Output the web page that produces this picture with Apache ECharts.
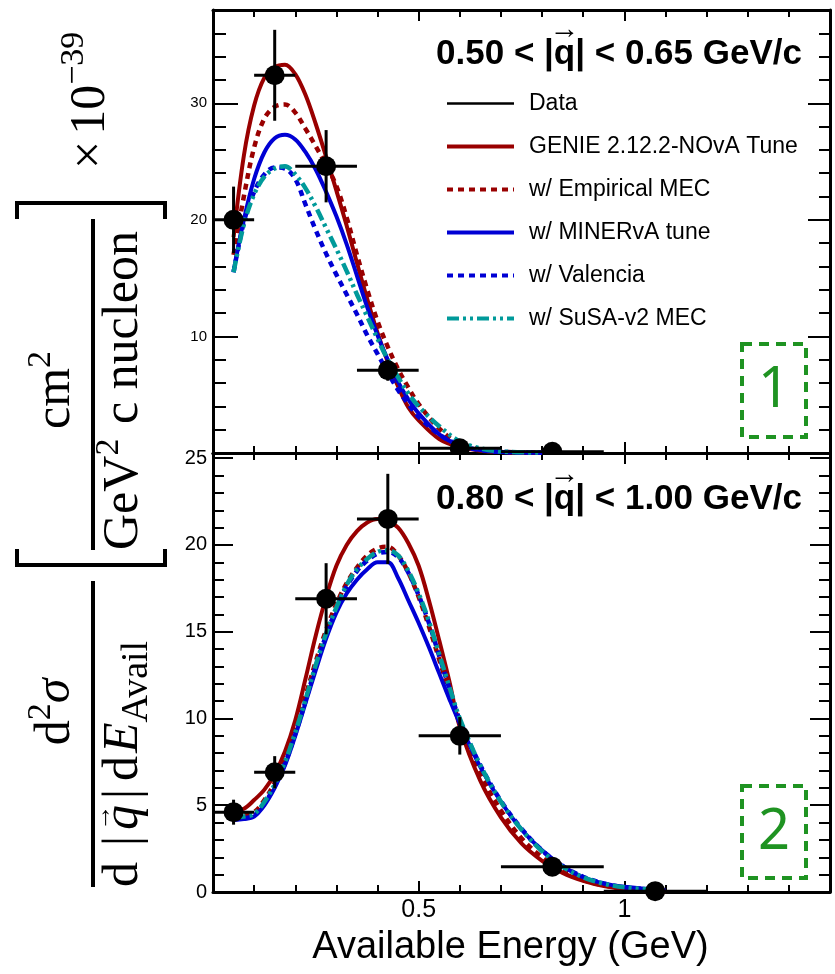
<!DOCTYPE html>
<html>
<head>
<meta charset="utf-8">
<script src="https://cdn.jsdelivr.net/npm/echarts@6/dist/echarts.min.js"></script>
<style>
  html, body { margin: 0; padding: 0; background: #ffffff; }
  #chart { width: 835px; height: 974px; }
</style>
</head>
<body>
<div id="chart"></div>
<script>
// ---- Measured cross-section, binned in available energy (GeV) ----
const binLow    = [0.00, 0.10, 0.20, 0.35, 0.50, 0.70, 0.95];
const binHigh   = [0.10, 0.20, 0.35, 0.50, 0.70, 0.95, 1.20];
const binCenter = [0.05, 0.15, 0.275, 0.425, 0.60, 0.825, 1.075];

// 0.50 < |q| < 0.65 GeV/c
const dataTop = [20.0, 32.4, 24.6, 7.1, 0.4, 0.1];
const errTop  = [2.85, 3.9, 3.1, 0.9, 0.2, 0.05];
// 0.80 < |q| < 1.00 GeV/c
const dataBottom = [4.6, 6.9, 16.9, 21.5, 9.0, 1.46, 0.05];
const errBottom  = [0.72, 0.93, 2.05, 2.6, 1.08, 0.3, 0.05];

// ---- Model predictions ----
const xTop = [0.05, 0.075, 0.1, 0.125, 0.15, 0.175, 0.2, 0.225, 0.25, 0.275,
              0.3, 0.325, 0.35, 0.375, 0.4, 0.425, 0.45, 0.475, 0.5, 0.55,
              0.6, 0.65, 0.7, 0.8];
const genieTop    = [18.5, 25.5, 29.8, 32.2, 33.1, 33.3, 32.5, 30.7, 28.2, 25.4,
                     22.5, 19.5, 16.3, 13.2, 10.3, 7.8, 5.7, 3.9, 2.8, 1.2,
                     0.5, 0.2, 0.08, 0.02];
const empMecTop   = [17.0, 22.0, 26.2, 28.7, 29.7, 29.9, 29.2, 27.8, 26.3, 24.7,
                     22.9, 20.2, 17.0, 14.0, 11.3, 9.1, 7.2, 5.6, 4.2, 2.1,
                     0.75, 0.3, 0.1, 0.03];
const minervaTop  = [15.6, 20.0, 23.5, 25.8, 27.0, 27.3, 26.9, 25.8, 24.3, 22.4,
                     20.3, 17.9, 15.2, 12.5, 10.1, 8.0, 6.1, 4.6, 3.4, 1.6,
                     0.65, 0.25, 0.09, 0.03];
const valenciaTop = [15.5, 19.8, 22.4, 23.9, 24.5, 24.4, 23.5, 21.3, 19.1, 17.1,
                     15.3, 13.6, 11.9, 10.1, 8.5, 6.9, 5.4, 4.2, 3.1, 1.6,
                     0.65, 0.25, 0.09, 0.03];
const susaTop     = [15.5, 19.6, 22.2, 23.7, 24.4, 24.6, 23.9, 22.7, 21.1, 19.3,
                     17.5, 15.6, 13.6, 11.7, 9.8, 8.0, 6.5, 5.1, 4.0, 2.3,
                     1.0, 0.4, 0.13, 0.04];

const xBottom = [0.05, 0.075, 0.1, 0.125, 0.15, 0.175, 0.2, 0.225, 0.25, 0.275,
                 0.3, 0.325, 0.35, 0.375, 0.4, 0.425, 0.45, 0.475, 0.5, 0.525,
                 0.55, 0.575, 0.6, 0.65, 0.7, 0.75, 0.8, 0.85, 0.9, 0.95,
                 1.0, 1.1];
const genieBottom    = [4.7, 4.8, 5.3, 5.9, 6.8, 8.1, 9.9, 12.3, 14.8, 17.0,
                        18.8, 20.0, 20.8, 21.3, 21.5, 21.4, 21.0, 20.1, 18.8, 16.8,
                        14.5, 12.1, 9.5, 6.4, 4.3, 2.8, 1.8, 1.1, 0.65, 0.35,
                        0.18, 0.05];
const empMecBottom   = [4.4, 4.45, 4.6, 5.3, 6.3, 7.6, 9.3, 11.3, 13.3, 15.1,
                        16.6, 17.8, 18.7, 19.4, 19.8, 19.9, 19.4, 18.4, 17.0, 15.3,
                        13.4, 11.5, 9.7, 6.8, 4.7, 3.1, 2.0, 1.25, 0.7, 0.38,
                        0.2, 0.06];
const minervaBottom  = [4.15, 4.2, 4.35, 5.0, 6.0, 7.3, 9.0, 10.9, 12.8, 14.6,
                        16.1, 17.2, 18.0, 18.6, 19.0, 19.0, 18.1, 16.8, 15.5, 14.1,
                        12.6, 11.1, 9.7, 7.2, 5.2, 3.6, 2.4, 1.5, 0.85, 0.5,
                        0.3, 0.1];
const valenciaBottom = [4.2, 4.25, 4.4, 5.1, 6.1, 7.4, 9.1, 11.0, 13.0, 14.8,
                        16.3, 17.6, 18.5, 19.1, 19.5, 19.6, 19.3, 18.4, 17.1, 15.5,
                        13.6, 11.7, 9.9, 7.3, 5.25, 3.65, 2.4, 1.5, 0.88, 0.5,
                        0.28, 0.08];
const susaBottom     = [4.3, 4.35, 4.5, 5.2, 6.2, 7.5, 9.2, 11.1, 13.1, 14.9,
                        16.4, 17.7, 18.6, 19.2, 19.6, 19.7, 19.4, 18.5, 17.2, 15.6,
                        13.7, 11.8, 10.0, 7.3, 5.2, 3.6, 2.35, 1.45, 0.85, 0.48,
                        0.27, 0.08];

// ---- Text ----
const seriesNames = ['Data', 'GENIE 2.12.2-NOvA Tune', 'w/ Empirical MEC',
                     'w/ MINERvA tune', 'w/ Valencia', 'w/ SuSA-v2 MEC'];
const panelLabelTop    = ['0.50 < |', 'q', '| < 0.65 GeV/c'];
const panelLabelBottom = ['0.80 < |', 'q', '| < 1.00 GeV/c'];
const xTitle = 'Available Energy (GeV)';

// ---- Styling ----
const RED = '#990000', BLUE = '#0000d4', TEAL = '#009a9a', GREEN = '#1f9322';
const SANS = '"Liberation Sans", Arial, Helvetica, sans-serif';
const SERIF = '"Liberation Serif", "Times New Roman", serif';

const measureCtx = document.createElement('canvas').getContext('2d');
function textWidth(str, font) { measureCtx.font = font; return measureCtx.measureText(str).width; }

function xAxisCfg(grid, position, withLabels) {
  return {
    type: 'value', gridIndex: grid, position: position,
    min: 0, max: 1.5, interval: 0.5,
    axisLine: { show: true, onZero: false, lineStyle: { color: '#000', width: 3 } },
    axisTick: { show: true, inside: true, length: 11, lineStyle: { color: '#000', width: 2 } },
    minorTick: { show: true, splitNumber: 5, length: 7, lineStyle: { color: '#000', width: 2 } },
    splitLine: { show: false }, minorSplitLine: { show: false },
    axisLabel: withLabels ? {
      show: true, margin: 6, color: '#000', fontFamily: SANS, fontSize: 25,
      formatter: v => (Math.abs(v - 0.5) < 1e-9 ? '0.5' : Math.abs(v - 1) < 1e-9 ? '1' : '')
    } : { show: false },
    name: withLabels ? xTitle : '',
    nameLocation: 'middle', nameGap: 37,
    nameTextStyle: { color: '#000', fontFamily: SANS, fontSize: 38, padding: [0, 22, 0, 0] }
  };
}

function yAxisCfg(grid, position, max, interval, majorLen, minorLen, labelSize, withLabels, labelTest) {
  return {
    type: 'value', gridIndex: grid, position: position,
    min: 0, max: max, interval: interval,
    axisLine: { show: true, onZero: false, lineStyle: { color: '#000', width: 3 } },
    axisTick: { show: true, inside: true, length: majorLen, lineStyle: { color: '#000', width: 2 } },
    minorTick: { show: true, splitNumber: 5, length: minorLen, lineStyle: { color: '#000', width: 2 } },
    splitLine: { show: false }, minorSplitLine: { show: false },
    axisLabel: withLabels ? {
      show: true, margin: 6, color: '#000', fontFamily: SANS, fontSize: labelSize,
      formatter: v => (labelTest(v) ? String(v) : '')
    } : { show: false }
  };
}

function curve(name, xs, ys, axisIdx, color, dash, width, z) {
  return {
    type: 'line', name: name, xAxisIndex: axisIdx, yAxisIndex: axisIdx,
    data: xs.map((x, i) => [x, ys[i]]),
    symbol: 'none', smooth: 0.35, clip: true, silent: true, z: z,
    lineStyle: { color: color, width: width, type: dash, cap: 'butt' },
    itemStyle: { color: color }
  };
}

function pointRows(values, errors) {
  return values.map((v, i) => [binCenter[i], v, binLow[i], binHigh[i], v - errors[i], v + errors[i]]);
}

function renderPoint(params, api) {
  const x = api.value(0), y = api.value(1);
  const c = api.coord([x, y]);
  const l = api.coord([api.value(2), y]), r = api.coord([api.value(3), y]);
  const lo = api.coord([x, api.value(4)]), hi = api.coord([x, api.value(5)]);
  const bar = { stroke: '#000', lineWidth: 3 };
  return {
    type: 'group',
    children: [
      { type: 'line', shape: { x1: l[0], y1: c[1], x2: r[0], y2: c[1] }, style: bar },
      { type: 'line', shape: { x1: c[0], y1: hi[1], x2: c[0], y2: lo[1] }, style: bar },
      { type: 'circle', shape: { cx: c[0], cy: c[1], r: 10 }, style: { fill: '#000' } }
    ]
  };
}

function pointSeries(rows, axisIdx, clip) {
  return {
    type: 'custom', name: 'Data', xAxisIndex: axisIdx, yAxisIndex: axisIdx,
    data: rows, renderItem: renderPoint, clip: clip, silent: true, z: 10,
    encode: { x: 0, y: 1 },
    itemStyle: { color: '#000' }
  };
}

// ---- Rotated y-axis title, typeset piece by piece (reads bottom to top) ----
function verticalRun(startY, baseX, tokens, out) {
  let y = startY;
  tokens.forEach(tk => {
    const font = (tk.italic ? 'italic ' : '') + tk.size + 'px ' + SERIF;
    y -= (tk.pad || 0);
    const w = textWidth(tk.t, font);
    const cx = baseX + (tk.dy || 0) - 0.33 * tk.size;
    out.push({
      type: 'text', rotation: Math.PI / 2, x: cx, y: y, silent: true,
      style: { text: tk.t, font: font, fill: '#000', textAlign: 'left', textVerticalAlign: 'middle' }
    });
    if (tk.vec) {
      out.push({
        type: 'text', rotation: Math.PI / 2, x: baseX - 0.74 * tk.size, y: y - w / 2, silent: true,
        style: { text: '\u2192', font: '26px ' + SERIF, fill: '#000', textAlign: 'center', textVerticalAlign: 'middle' }
      });
    }
    y -= w;
  });
  return y;
}
function runWidth(tokens) {
  return tokens.reduce((s, tk) => s + (tk.pad || 0) +
    textWidth(tk.t, (tk.italic ? 'italic ' : '') + tk.size + 'px ' + SERIF), 0);
}

const titleParts = [];
// d²σ / d|q|dE_Avail
const numA = [{ t: 'd', size: 50 }, { t: '2', size: 34, dy: -20 }, { t: '\u03c3', size: 50, italic: true }];
verticalRun(712 + runWidth(numA) / 2, 72, numA, titleParts);
const denA = [
  { t: 'd', size: 50 }, { t: '|', size: 50, pad: 16 }, { t: 'q', size: 50, italic: true, pad: 6, vec: true },
  { t: '|', size: 50, pad: 6 }, { t: 'd', size: 50, pad: 8 }, { t: 'E', size: 50, italic: true, pad: 3 },
  { t: 'Avail', size: 38, dy: 10 }
];
verticalRun(887, 140, denA, titleParts);
// cm² / GeV² c nucleon
const numB = [{ t: 'cm', size: 50 }, { t: '2', size: 34, dy: -20 }];
verticalRun(390 + runWidth(numB) / 2, 72, numB, titleParts);
const denB = [{ t: 'GeV', size: 50 }, { t: '2', size: 34, dy: -20 }, { t: ' c nucleon', size: 50, pad: 2 }];
verticalRun(550, 140, denB, titleParts);
// × 10⁻³⁹
const scaleRun = [{ t: '\u00d7', size: 50 }, { t: '10', size: 50, pad: 6 }, { t: '\u221239', size: 34, dy: -22 }];
verticalRun(169, 107, scaleRun, titleParts);

const rule = { stroke: '#000', lineWidth: 4 };
const titleLines = [
  { type: 'line', shape: { x1: 93, y1: 581, x2: 93, y2: 887 }, style: rule },
  { type: 'line', shape: { x1: 93, y1: 219, x2: 93, y2: 550 }, style: rule },
  // opening bracket
  { type: 'polyline', shape: { points: [[17, 549], [17, 565], [165, 565], [165, 549]] }, style: Object.assign({ fill: 'none' }, rule) },
  // closing bracket
  { type: 'polyline', shape: { points: [[17, 219], [17, 203], [165, 203], [165, 219]] }, style: Object.assign({ fill: 'none' }, rule) }
];

// ---- Panel labels with a vector arrow over q ----
function panelLabel(parts, rightX, midY) {
  const font = 'bold 35px ' + SANS;
  const full = parts.join('');
  const W = textWidth(full, font);
  const qMid = rightX - W + textWidth(parts[0], font) + textWidth(parts[1], font) / 2;
  return [
    { type: 'text', x: rightX, y: midY, silent: true,
      style: { text: full, font: font, fill: '#000', textAlign: 'right', textVerticalAlign: 'middle' } },
    { type: 'text', x: qMid, y: midY - 24, silent: true,
      style: { text: '\u2192', font: 'bold 30px ' + SANS, fill: '#000', textAlign: 'center', textVerticalAlign: 'middle' } }
  ];
}

function tagBox(label, x, y, w, h) {
  return [
    { type: 'rect', shape: { x: x, y: y, width: w, height: h }, silent: true,
      style: { fill: 'none', stroke: GREEN, lineWidth: 4, lineDash: [10, 7] } },
    { type: 'text', x: x + w / 2, y: y + h / 2 + 1, silent: true,
      style: { text: label, font: '56px "Noto Sans", "Open Sans", sans-serif', fill: GREEN,
               textAlign: 'center', textVerticalAlign: 'middle' } }
  ];
}

const chart = echarts.init(document.getElementById('chart'), null, { renderer: 'canvas', width: 835, height: 974 });

const option = {
  animation: false,
  backgroundColor: '#ffffff',
  grid: [
    { left: 213, top: 10, width: 617, height: 443, containLabel: false, outerBoundsMode: 'none' },
    { left: 213, top: 453, width: 617, height: 439, containLabel: false, outerBoundsMode: 'none' }
  ],
  xAxis: [
    xAxisCfg(0, 'bottom', false),
    xAxisCfg(0, 'top', false),
    xAxisCfg(1, 'bottom', true),
    xAxisCfg(1, 'top', false)
  ],
  yAxis: [
    yAxisCfg(0, 'left', 38, 10, 25, 13, 15, true, v => v > 0 && v <= 30 && v % 10 === 0),
    yAxisCfg(0, 'right', 38, 10, 22, 11, 15, false),
    yAxisCfg(1, 'left', 25.3, 5, 20, 11, 20, true, v => v >= 0 && v <= 25 && v % 5 === 0),
    yAxisCfg(1, 'right', 25.3, 5, 20, 11, 20, false)
  ],
  legend: {
    orient: 'vertical', left: 440, top: 87,
    itemWidth: 67, itemHeight: 14, itemGap: 20,
    selectedMode: false,
    itemStyle: { opacity: 0 },
    lineStyle: { width: 4 },
    textStyle: { color: '#000', fontFamily: SANS, fontSize: 23, lineHeight: 23, padding: [0, 0, 0, 10] },
    data: [
      { name: seriesNames[0], icon: 'path://M0 0H100V4H0Z', itemStyle: { opacity: 1, color: '#000' } },
      seriesNames[1], seriesNames[2], seriesNames[3], seriesNames[4], seriesNames[5]
    ]
  },
  series: [
    curve(seriesNames[1], xTop, genieTop, 0, RED, 'solid', 4, 3),
    curve(seriesNames[2], xTop, empMecTop, 0, RED, [6, 5], 4.5, 3),
    curve(seriesNames[3], xTop, minervaTop, 0, BLUE, 'solid', 4, 3),
    curve(seriesNames[4], xTop, valenciaTop, 0, BLUE, [6, 5], 4.5, 3),
    curve(seriesNames[5], xTop, susaTop, 0, TEAL, [12, 4, 3, 4, 3, 4], 4.5, 3),
    pointSeries(pointRows(dataTop, errTop), 0, true),

    curve(seriesNames[1], xBottom, genieBottom, 2, RED, 'solid', 4, 3),
    curve(seriesNames[2], xBottom, empMecBottom, 2, RED, [6, 5], 4.5, 3),
    curve(seriesNames[3], xBottom, minervaBottom, 2, BLUE, 'solid', 4, 3),
    curve(seriesNames[4], xBottom, valenciaBottom, 2, BLUE, [6, 5], 4.5, 3),
    curve(seriesNames[5], xBottom, susaBottom, 2, TEAL, [12, 4, 3, 4, 3, 4], 4.5, 3),
    pointSeries(pointRows(dataBottom, errBottom), 2, false)
  ],
  graphic: [].concat(
    titleParts, titleLines,
    panelLabel(panelLabelTop, 802, 54),
    panelLabel(panelLabelBottom, 802, 499),
    tagBox('1', 742, 344, 64, 93),
    tagBox('2', 742, 786, 64, 92)
  )
};

chart.setOption(option);
</script>
</body>
</html>
